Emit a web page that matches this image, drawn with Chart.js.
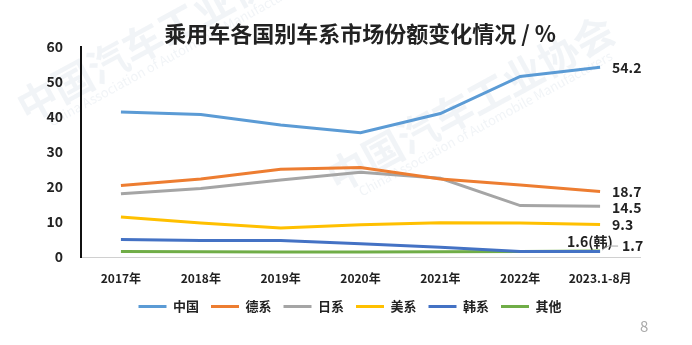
<!DOCTYPE html>
<html>
<head>
<meta charset="utf-8">
<script src="https://cdn.jsdelivr.net/npm/chart.js@4.4.0/dist/chart.umd.min.js"></script>
<style>
  html, body { margin: 0; padding: 0; background: #fff; }
  #wrap { width: 692px; height: 345px; position: relative; }
</style>
</head>
<body>
<div id="wrap"><canvas id="shareChart"></canvas></div>
<script>
// data
const years = ['2017年', '2018年', '2019年', '2020年', '2021年', '2022年', '2023.1-8月'];
const china   = [41.4, 40.7, 37.7, 35.5, 41.0, 51.6, 54.2];
const germany = [20.4, 22.3, 25.1, 25.6, 22.3, 20.6, 18.7];
const japan   = [18.1, 19.6, 22.0, 24.2, 22.5, 14.7, 14.5];
const usa     = [11.4, 9.7, 8.3, 9.2, 9.8, 9.7, 9.3];
const korea   = [5.0, 4.7, 4.7, 3.8, 2.8, 1.6, 1.6];
const other   = [1.6, 1.5, 1.4, 1.4, 1.5, 1.6, 1.7];
const yTicks  = [0, 10, 20, 30, 40, 50, 60];
const endLabels = ['54.2', '18.7', '14.5', '9.3', '1.6(韩)', '1.7'];

const FONT = '"Noto Sans CJK SC", "Noto Sans", sans-serif';

function makeSet(label, data, color) {
  return {
    label: label,
    data: data,
    borderColor: color,
    backgroundColor: color,
    borderWidth: 3,
    pointRadius: 0,
    tension: 0,
    fill: false
  };
}

function watermark(ctx, tx, ty) {
  ctx.save();
  ctx.fillStyle = 'rgba(205,215,228,0.28)';
  ctx.translate(tx, ty);
  ctx.rotate(-0.5);
  ctx.font = 'bold 40px ' + FONT;
  ctx.fillText('中国汽车工业协会', 0, 0);
  ctx.font = '13px ' + FONT;
  ctx.fillText('China Association of Automobile Manufacturers', 20, 25);
  ctx.restore();
}

// title, watermark, end labels, page number
const decor = {
  id: 'decor',
  beforeDraw(chart) {
    watermark(chart.ctx, 20, 110);
    watermark(chart.ctx, 330, 180);
  },
  afterDraw(chart) {
    const ctx = chart.ctx;
    const x = chart.scales.x;
    const y = chart.scales.y;
    ctx.save();
    ctx.fillStyle = '#222';
    ctx.font = 'bold 22px ' + FONT;
    ctx.textAlign = 'center';
    ctx.textBaseline = 'middle';
    ctx.fillText('乘用车各国别车系市场份额变化情况 / %', 360, 34);

    ctx.font = 'bold 14px ' + FONT;
    ctx.textAlign = 'left';
    const last = years.length - 1;
    const px = x.getPixelForValue(last);
    const offs = [[12, 0], [12, 0], [12, 1], [12, 0], [-33, -10], [22, -5]];
    chart.data.datasets.forEach((ds, i) => {
      const py = y.getPixelForValue(ds.data[last]);
      ctx.fillText(endLabels[i], px + offs[i][0], py + offs[i][1]);
    });
    // leader line to the 1.7 label
    const gy = y.getPixelForValue(other[last]);
    ctx.strokeStyle = '#aaa';
    ctx.lineWidth = 1;
    ctx.beginPath();
    ctx.moveTo(px + 2, gy - 1);
    ctx.lineTo(px + 8, gy - 5);
    ctx.lineTo(px + 18, gy - 5);
    ctx.stroke();

    ctx.fillStyle = '#aaa';
    ctx.font = '15px ' + FONT;
    ctx.fillText('8', 640, 326);
    ctx.restore();
  }
};

new Chart(document.getElementById('shareChart'), {
  type: 'line',
  data: {
    labels: years,
    datasets: [
      makeSet('中国', china, '#5B9BD5'),
      makeSet('德系', germany, '#ED7D31'),
      makeSet('日系', japan, '#A5A5A5'),
      makeSet('美系', usa, '#FFC000'),
      makeSet('韩系', korea, '#4472C4'),
      makeSet('其他', other, '#70AD47')
    ]
  },
  options: {
    responsive: true,
    maintainAspectRatio: false,
    animation: false,
    layout: { padding: { left: 10, right: 2, top: 47, bottom: 22 } },
    plugins: {
      title: { display: false },
      tooltip: { enabled: false },
      legend: {
        position: 'bottom',
        labels: {
          boxWidth: 28,
          boxHeight: 3,
          padding: 12,
          color: '#222',
          font: { family: FONT, size: 13, weight: 'bold' },
          generateLabels(chart) {
            return chart.data.datasets.map((ds, i) => ({
              text: ds.label,
              fillStyle: ds.borderColor,
              strokeStyle: ds.borderColor,
              lineWidth: 0,
              hidden: false,
              datasetIndex: i,
              fontColor: '#222'
            }));
          }
        }
      }
    },
    scales: {
      x: {
        offset: true,
        grid: { display: false },
        border: { display: true, color: '#d0d0d0', width: 1 },
        ticks: {
          color: '#222',
          padding: 6,
          maxRotation: 0,
          autoSkip: false,
          font: { family: FONT, size: 12, weight: 'bold' }
        },
        afterFit(s) { s.height = 31; }
      },
      y: {
        min: 0,
        max: 60,
        afterBuildTicks(s) { s.ticks = yTicks.map(v => ({ value: v })); },
        grid: { display: false },
        border: { display: true, color: '#111', width: 2 },
        ticks: {
          color: '#222',
          padding: 10,
          font: { family: FONT, size: 14, weight: 'bold' }
        },
        afterFit(s) { s.width = 71; }
      },
      // empty right-hand axis that only reserves room for the end labels
      yRight: {
        position: 'right',
        grid: { display: false },
        border: { display: false },
        ticks: { display: false },
        afterFit(s) { s.width = 50; }
      }
    }
  },
  plugins: [decor]
});
</script>
</body>
</html>
